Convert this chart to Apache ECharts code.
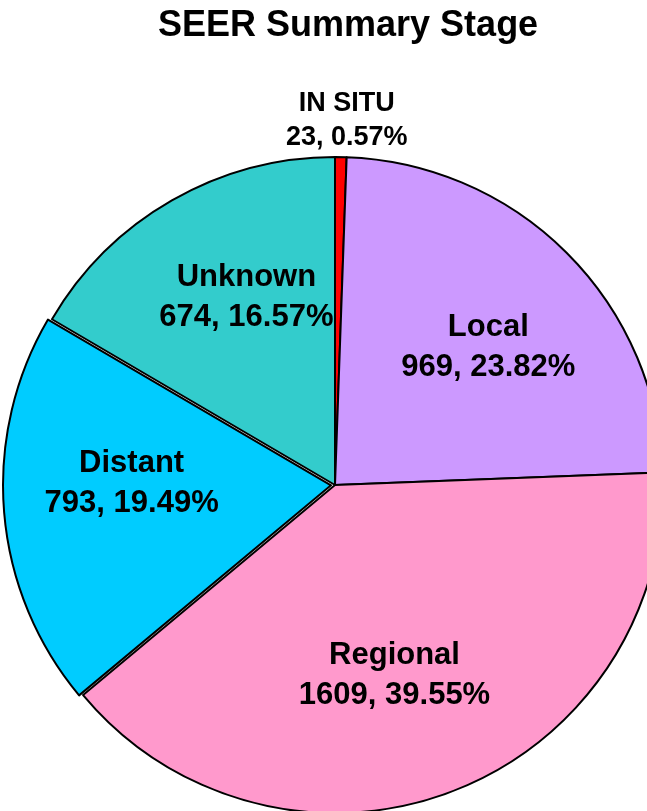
<!DOCTYPE html>
<html>
<head>
<meta charset="utf-8">
<script src="https://cdn.jsdelivr.net/npm/echarts@6/dist/echarts.min.js"></script>
<style>
  html, body { margin: 0; padding: 0; background: #fff; }
  #seer-pie { width: 647px; height: 811px; }
</style>
</head>
<body>
<div id="seer-pie"></div>
<script>
// data, clockwise from 12 o'clock
const stages = ["IN SITU", "Local", "Regional", "Distant", "Unknown"];
const counts = [23, 969, 1609, 793, 674];
const percents = ["0.57", "23.82", "39.55", "19.49", "16.57"];
const colors = ["#ff0000", "#cc99ff", "#ff99cc", "#00ccff", "#33cccc"];

const pieCenter = [335, 485];
const pieRadius = 328;
const font = "'Liberation Sans', Arial, sans-serif";

const total = counts.reduce(function (a, b) { return a + b; }, 0);

const chart = echarts.init(document.getElementById("seer-pie"));
chart.setOption({
  animation: false,
  title: {
    text: "SEER Summary Stage",
    left: 158,
    top: 8,
    padding: 0,
    textStyle: {
      color: "#000",
      fontSize: 36,
      fontWeight: "bold",
      fontFamily: font
    }
  },
  series: [
    {
      // the slices
      type: "pie",
      z: 2,
      center: pieCenter,
      radius: pieRadius,
      startAngle: 90,
      clockwise: true,
      selectedMode: "single",
      selectedOffset: 4, // Distant slice is pulled out a little
      silent: true,
      itemStyle: { borderColor: "#000", borderWidth: 2 },
      label: { show: false },
      labelLine: { show: false },
      data: stages.map(function (name, i) {
        return {
          name: name,
          value: counts[i],
          selected: name === "Distant",
          itemStyle: { color: colors[i] }
        };
      })
    },
    {
      // same pie again, invisible, only carries the labels
      // (labels of a selected slice ignore labelLayout)
      type: "pie",
      z: 5,
      center: pieCenter,
      radius: pieRadius,
      startAngle: 90,
      clockwise: true,
      silent: true,
      avoidLabelOverlap: false,
      itemStyle: { color: "rgba(0,0,0,0)", borderWidth: 0 },
      label: {
        show: true,
        position: "inside",
        color: "#000",
        fontSize: 31,
        lineHeight: 40,
        fontWeight: "bold",
        fontFamily: font,
        formatter: function (p) {
          return p.name + "\n" + counts[p.dataIndex] + ", " + percents[p.dataIndex] + "%";
        }
      },
      labelLine: { show: false },
      // labels sit a bit further out than echarts' default (r/2),
      // IN SITU goes above the pie
      labelLayout: function (p) {
        const i = p.dataIndex;
        if (i === 0) {
          return {
            x: p.rect.x + p.rect.width / 2 + 6,
            y: p.rect.y - 2,
            align: "center",
            verticalAlign: "bottom"
          };
        }
        let before = 0;
        for (let k = 0; k < i; k++) before += counts[k];
        const ang = ((before + counts[i] / 2) / total * 360 + 4) * Math.PI / 180;
        const d = pieRadius * 0.62;
        return {
          x: pieCenter[0] + d * Math.sin(ang),
          y: pieCenter[1] - 4 - d * Math.cos(ang),
          align: "center",
          verticalAlign: "middle"
        };
      },
      data: stages.map(function (name, i) {
        const item = { name: name, value: counts[i] };
        if (i === 0) {
          item.label = { position: "outside", fontSize: 27, lineHeight: 34 };
        }
        return item;
      })
    }
  ]
});
</script>
</body>
</html>
